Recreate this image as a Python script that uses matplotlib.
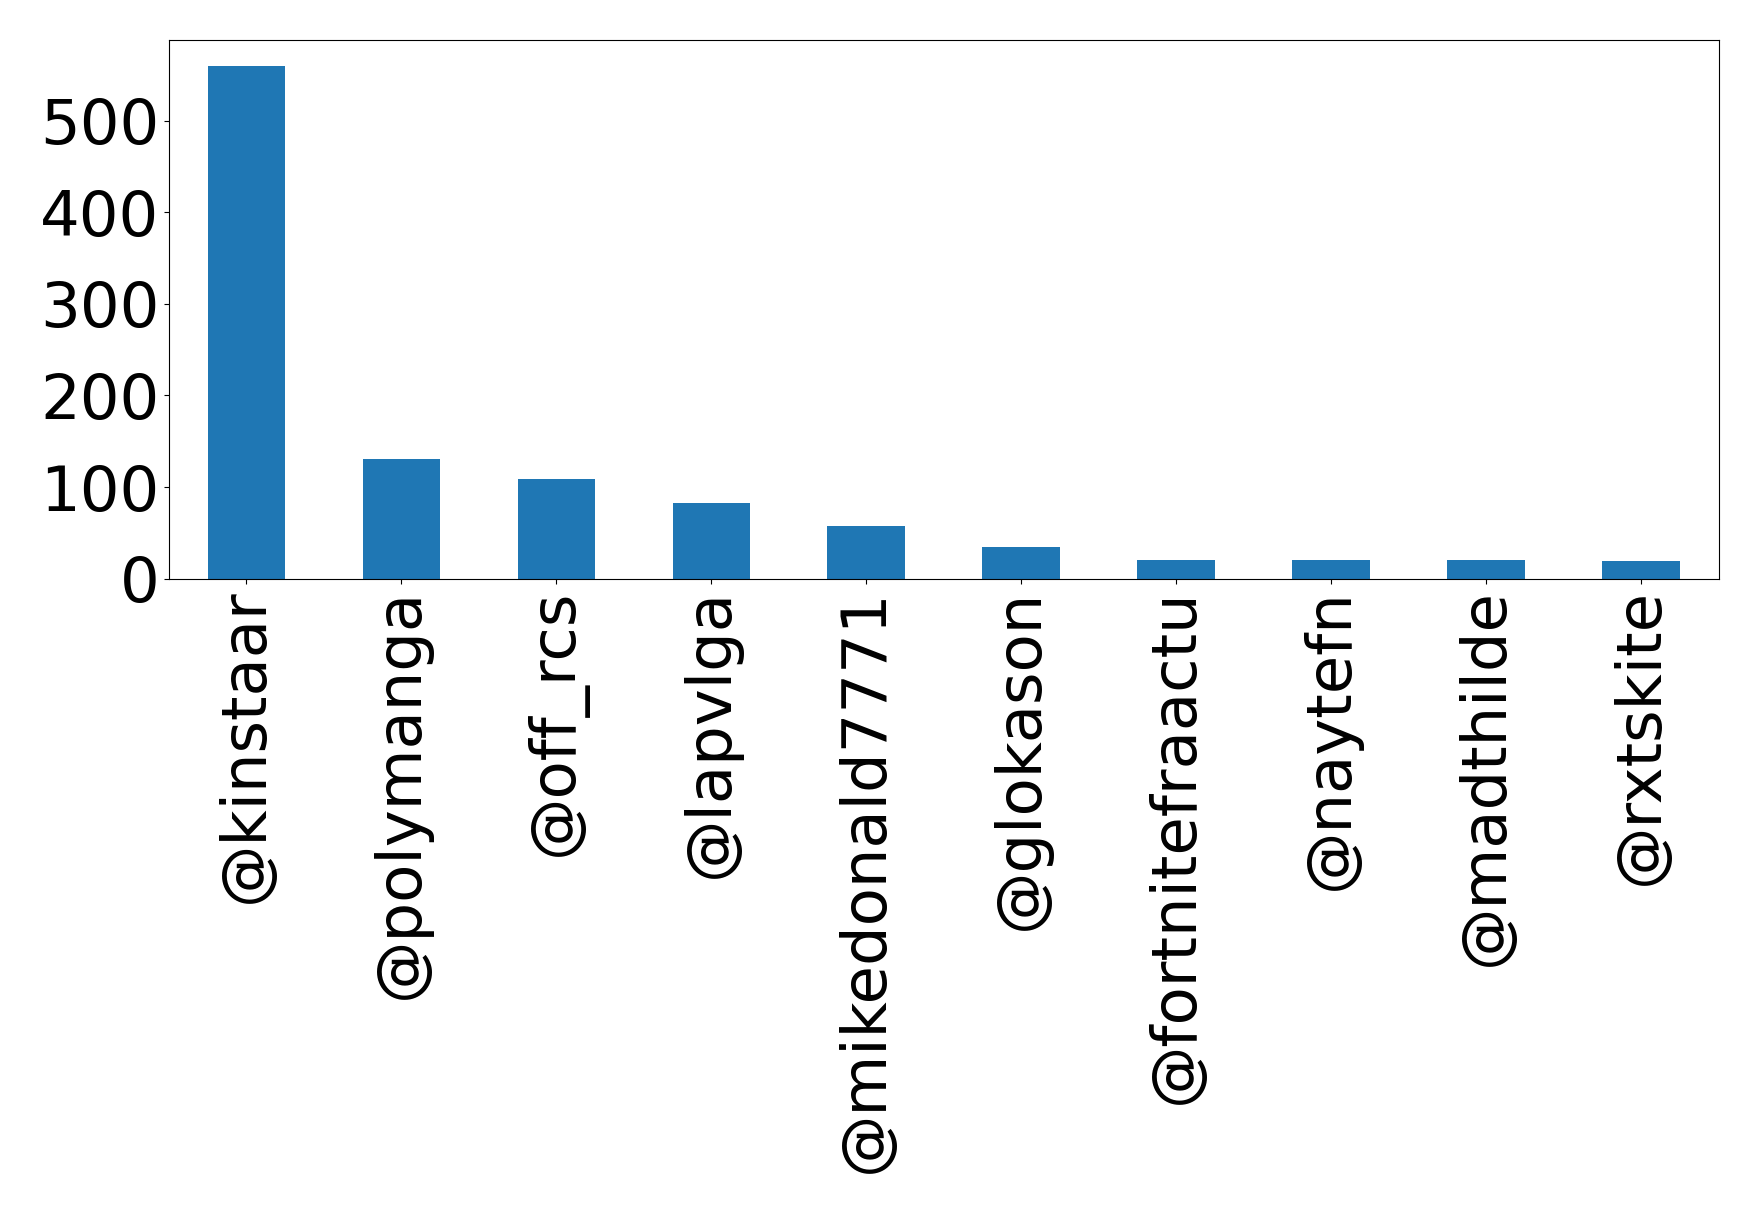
import matplotlib
matplotlib.use("Agg")
import matplotlib.pyplot as plt
import numpy as np

users = ['@kinstaar', '@polymanga', '@off_rcs', '@lapvlga', '@mikedonald7771',
         '@glokason', '@fortnitefraactu', '@naytefn', '@madthilde', '@rxtskite']
counts = [560, 131, 109, 82, 57, 34, 20, 20, 20, 19]

fig = plt.figure(figsize=(17.59, 12.13), dpi=100)
ax = fig.add_axes([0.096, 0.523, 0.881, 0.444])

x = np.arange(len(users))
ax.bar(x, counts, width=0.5, color='#1f77b4')
ax.set_xlim(-0.5, len(users) - 0.5)
ax.set_xticks(x)
ax.set_xticklabels(users, rotation=90, fontsize=45)
ax.set_yticks([0, 100, 200, 300, 400, 500])
ax.tick_params(axis='y', labelsize=45)

fig.savefig('out.png', dpi=100)
